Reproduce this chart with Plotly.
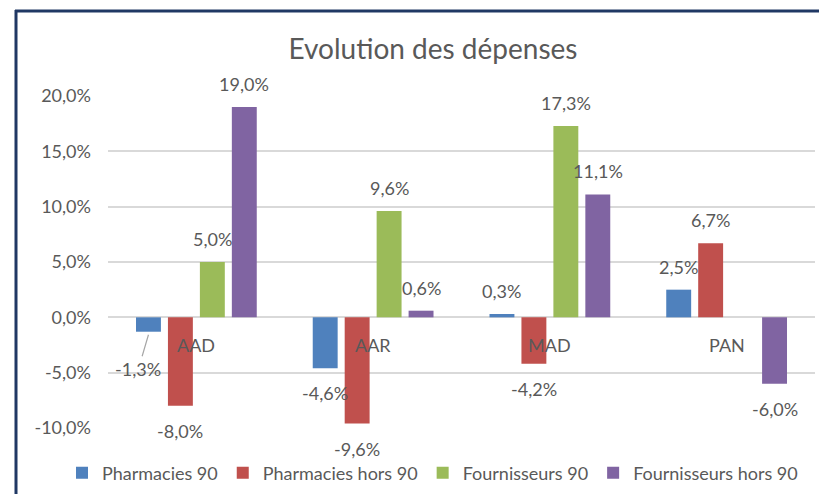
import plotly.graph_objects as go

categories = ["AAD", "AAR", "MAD", "PAN"]
series_names = ["Pharmacies 90", "Pharmacies hors 90", "Fournisseurs 90", "Fournisseurs hors 90"]
pharmacies_90 = [-0.013, -0.046, 0.003, 0.025]
pharmacies_hors_90 = [-0.080, -0.096, -0.042, 0.067]
fournisseurs_90 = [0.050, 0.096, 0.173, None]
fournisseurs_hors_90 = [0.190, 0.006, 0.111, -0.060]
y_ticks = [-0.10, -0.05, 0.0, 0.05, 0.10, 0.15, 0.20]
y_tick_labels = ["-10,0%", "-5,0%", "0,0%", "5,0%", "10,0%", "15,0%", "20,0%"]

colors = ["#4F81BD", "#C0504D", "#9BBB59", "#8064A2"]
values = [pharmacies_90, pharmacies_hors_90, fournisseurs_90, fournisseurs_hors_90]

# page body has an 8px margin, so the figure is a bit smaller than the window
OFF = 8
W, H = 811, 486
L, R, T, B = 100, 4, 88, 66
PW, PH = W - L - R, H - T - B
BARGAP = 0.277
FONT = "Lato, 'Open Sans', sans-serif"
GREY = "#595959"


def px_x(px):
    # window pixel -> paper x
    return (px - OFF - L) / PW


def px_y(py):
    # window pixel -> paper y
    return (H - B - (py - OFF)) / PH


def fmt(v):
    return f"{v * 100:.1f}%".replace(".", ",")


fig = go.Figure()
for name, vals, col in zip(series_names, values, colors):
    fig.add_trace(go.Bar(x=categories, y=vals, name=name, marker_color=col,
                         marker_line_width=0, cliponaxis=False))

# data labels, placed like Excel's "outside end"
slot = PW / len(categories) * (1 - BARGAP) / len(series_names)
annotations = []
for si, vals in enumerate(values):
    dx = (si - (len(series_names) - 1) / 2) * slot
    for cat, v in zip(categories, vals):
        if v is None:
            continue
        a = dict(x=cat, y=v, xref="x", yref="y", text=fmt(v), showarrow=False,
                 xshift=dx, yanchor="middle", font=dict(size=18, color=GREY, family=FONT))
        if cat == "AAD" and si == 0:
            # small bar: label pulled out with a leader line
            a.update(showarrow=True, arrowhead=0, arrowwidth=1.2, arrowcolor="#A6A6A6",
                     ax=-10, ay=34, yshift=-3, standoff=0)
        else:
            a["yshift"] = 23 if v >= 0 else -25
        annotations.append(a)

# category labels sit just under the zero line
for cat in categories:
    annotations.append(dict(x=cat, y=0, xref="x", yref="y", text=cat, showarrow=False,
                            yanchor="middle", yshift=-28,
                            font=dict(size=18, color=GREY, family=FONT)))

shapes = [
    dict(type="line", xref="paper", yref="paper", x0=px_x(15), x1=px_x(830),
         y0=px_y(11), y1=px_y(11), line=dict(color="#203864", width=3)),
    dict(type="line", xref="paper", yref="paper", x0=px_x(16), x1=px_x(16),
         y0=px_y(10), y1=px_y(499), line=dict(color="#203864", width=3)),
]

fig.update_layout(
    width=W, height=H,
    margin=dict(l=L, r=R, t=T, b=B, autoexpand=False),
    paper_bgcolor="white", plot_bgcolor="white",
    font=dict(family=FONT, color=GREY, size=18),
    title=dict(text="Evolution des dépenses", xref="container", yref="container",
               x=(433 - OFF) / W, y=1 - (49 - OFF) / H, xanchor="center", yanchor="middle",
               font=dict(size=28, color=GREY, family=FONT)),
    barmode="group", bargap=BARGAP, bargroupgap=0.22,
    xaxis=dict(showticklabels=False, showgrid=False, zeroline=False, showline=False),
    yaxis=dict(range=[-0.10, 0.20], tickvals=y_ticks, ticktext=y_tick_labels,
               showgrid=True, gridcolor="#D9D9D9", gridwidth=1.5,
               zeroline=True, zerolinecolor="#D9D9D9", zerolinewidth=1.5,
               showline=False, ticklabelstandoff=16,
               tickfont=dict(size=18, color=GREY, family=FONT)),
    # left-anchored left of the plot area so the single row may use the left margin too
    legend=dict(orientation="h", x=px_x(62), y=px_y(473), xanchor="left",
                yanchor="middle", font=dict(size=18, color=GREY, family=FONT),
                bgcolor="rgba(0,0,0,0)", traceorder="normal"),
    annotations=annotations,
    shapes=shapes,
)

fig.write_html("out.html")
